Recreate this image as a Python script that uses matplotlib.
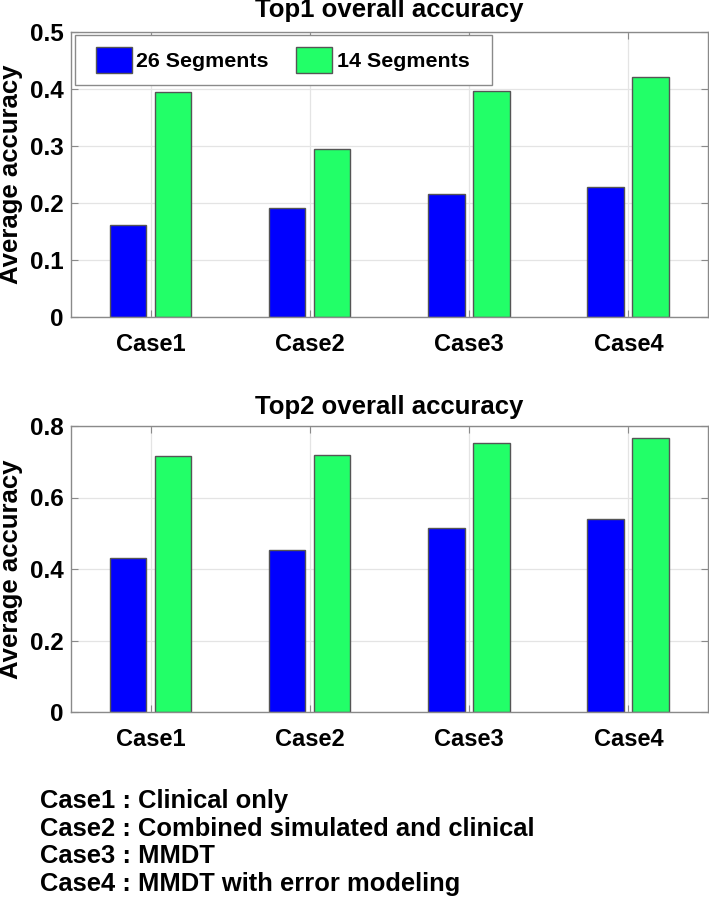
import matplotlib
matplotlib.use("Agg")
import matplotlib.pyplot as plt
from matplotlib.patches import Rectangle
import numpy as np

plt.rcParams['font.family'] = ['Liberation Sans', 'DejaVu Sans']
plt.rcParams['font.weight'] = 'bold'

cases = ['Case1', 'Case2', 'Case3', 'Case4']
series = ['26 Segments', '14 Segments']
top1_26 = [0.161, 0.191, 0.215, 0.228]
top1_14 = [0.394, 0.294, 0.396, 0.421]
top2_26 = [0.431, 0.454, 0.514, 0.539]
top2_14 = [0.717, 0.719, 0.753, 0.766]
notes = ['Case1 : Clinical only',
         'Case2 : Combined simulated and clinical',
         'Case3 : MMDT',
         'Case4 : MMDT with error modeling']

blue = '#0000ff'
green = '#22ff68'
edge = '#555555'
spine = '#8a8a8a'

fig = plt.figure(figsize=(7.09, 9.0), dpi=100)
ax1 = fig.add_axes([71 / 709, 1 - 317 / 900, 637 / 709, 285 / 900])
ax2 = fig.add_axes([71 / 709, 1 - 712 / 900, 637 / 709, 286 / 900])

x = np.arange(1, len(cases) + 1)


def draw(ax, v26, v14, ymax, step, title, tpad):
    ax.set_axisbelow(True)
    b1 = ax.bar(x - 0.143, v26, width=0.228, color=blue, edgecolor=edge, linewidth=1.0, label=series[0])
    b2 = ax.bar(x + 0.14, v14, width=0.23, color=green, edgecolor=edge, linewidth=1.0, label=series[1])
    ax.set_xlim(0.5, 4.5)
    ax.set_ylim(0, ymax)
    ax.set_xticks(x)
    ax.set_xticklabels(cases, fontsize=17, fontweight='bold')
    ax.set_yticks(np.arange(0, ymax + 1e-9, step))
    ax.yaxis.set_major_formatter(plt.FuncFormatter(lambda v, p: '0' if v == 0 else f'{v:g}'))
    for lab in ax.get_yticklabels():
        lab.set_fontsize(17.5)
        lab.set_fontweight('bold')
    ax.tick_params(axis='x', direction='in', length=5, width=0.8, color=spine, pad=11.5, top=True)
    ax.tick_params(axis='y', direction='in', length=5, width=0.8, color=spine, pad=5.5, right=True)
    ax.grid(True, color='#e4e4e4', linewidth=0.9)
    for s in ax.spines.values():
        s.set_color(spine)
        s.set_linewidth(1.0)
    ax.set_title(title, fontsize=18.5, fontweight='bold', pad=tpad)
    ax.set_ylabel('Average accuracy', fontsize=18.5, fontweight='bold')
    ax.yaxis.set_label_coords(-0.0754, 0.5)
    return b1, b2


b1, b2 = draw(ax1, top1_26, top1_14, 0.5, 0.1, 'Top1 overall accuracy', 10.5)
draw(ax2, top2_26, top2_14, 0.8, 0.2, 'Top2 overall accuracy', 8.5)

# legend with a plain gray box
ax1.add_patch(Rectangle((0.0063, 0.814), 0.655, 0.175, transform=ax1.transAxes,
                        facecolor='white', edgecolor=spine, linewidth=1.0, zorder=4))
leg = ax1.legend([b1, b2], series, loc='center left', bbox_to_anchor=(0.0392, 0.9015),
                 ncol=2, frameon=False, borderpad=0, borderaxespad=0,
                 handlelength=1.68, handleheight=1.54, handletextpad=0.2,
                 columnspacing=1.3, prop={'size': 15.4, 'weight': 'bold'})
leg.set_zorder(5)

for i, line in enumerate(notes):
    fig.text(40 / 709, 1 - (808 + 27.5 * i) / 900, line, fontsize=18.4,
             fontweight='bold', va='baseline', ha='left')

fig.savefig('out.png', dpi=100)
